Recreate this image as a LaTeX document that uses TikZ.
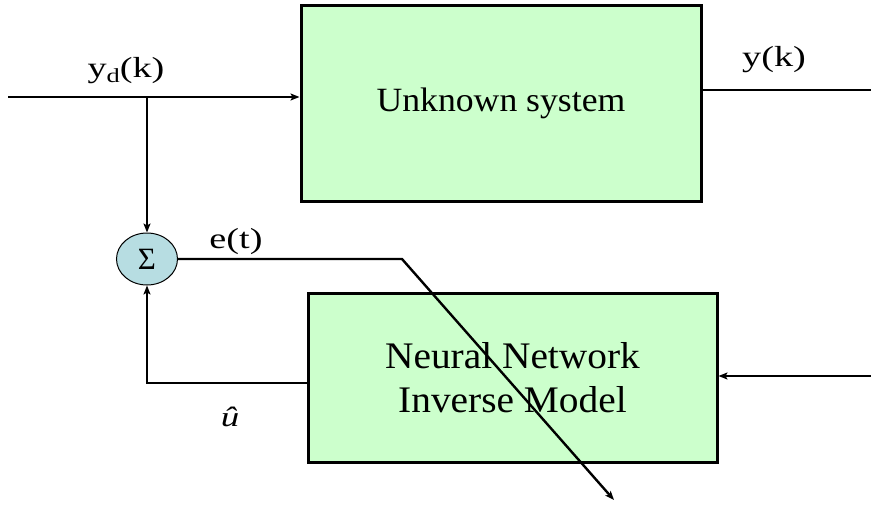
\documentclass[tikz,border=0pt]{standalone}
\usepackage{fontspec}
\setmainfont{Liberation Serif}
\newfontfamily\lblfont[FakeStretch=1.32]{Liberation Serif}
\newfontfamily\blkfont[FakeStretch=1.05]{Liberation Serif}
\usetikzlibrary{arrows.meta,shapes.geometric}
\definecolor{blockgreen}{RGB}{204,255,204}
\definecolor{sumblue}{RGB}{183,221,226}

\begin{document}
\begin{tikzpicture}[->,>={Stealth[length=9pt,width=7pt,inset=2pt]},x=1pt,y=-1pt,line width=2.4pt,auto]
  \tikzstyle{every node}=[inner sep=0pt]
  \tikzstyle{block}=[rectangle,draw=black,fill=blockgreen,line width=3pt,align=center]
  \tikzstyle{sum}=[ellipse,draw=black,fill=sumblue,line width=1pt,minimum width=61pt,minimum height=52pt]
  \tikzstyle{lbl}=[font=\lblfont\fontsize{29}{29}\selectfont]

  \useasboundingbox (0,0) rectangle (871,504);

  \node[block,minimum width=400pt,minimum height=196pt,font=\blkfont\fontsize{34}{34}\selectfont] (sys) at (501,103) {Unknown system};
  \node[block,minimum width=409pt,minimum height=169pt,font=\blkfont\fontsize{37.5}{44}\selectfont] (nn) at (512.5,377.5) {Neural Network\\Inverse Model};
  \node[sum,font=\fontsize{31}{31}\selectfont] (sum) at (147,259) {Σ};

  \coordinate (in) at (8,97);
  \coordinate (split) at (147,97);
  \coordinate (out) at (871,90);
  \coordinate (nnin) at (871,376);
  \coordinate (fb) at (147,383);
  \coordinate (bend) at (402,259);
  \coordinate (eend) at (614,500);

  \draw (in) -- (sys.west |- in);
  \draw (split) -- (sum.north);
  \draw[-] (sys.east |- out) -- (out);
  \draw (nnin) -- (nn.east |- nnin);
  \draw (nn.west |- fb) -- (fb) -- (sum.south);
  \draw (sum.east) -- (sum.east -| bend) -- (eend);

  \node[lbl] (yd) at (126,71) {y\raisebox{-5pt}{\fontsize{20}{20}\selectfont d}(k)};
  \node[lbl] (yk) at (774,60) {y(k)};
  \node[lbl] (et) at (236,242) {e(t)};
  \node[lbl,font=\lblfont\itshape\fontsize{28}{28}\selectfont] (uhat) at (230,417) {û};
\end{tikzpicture}
\end{document}
